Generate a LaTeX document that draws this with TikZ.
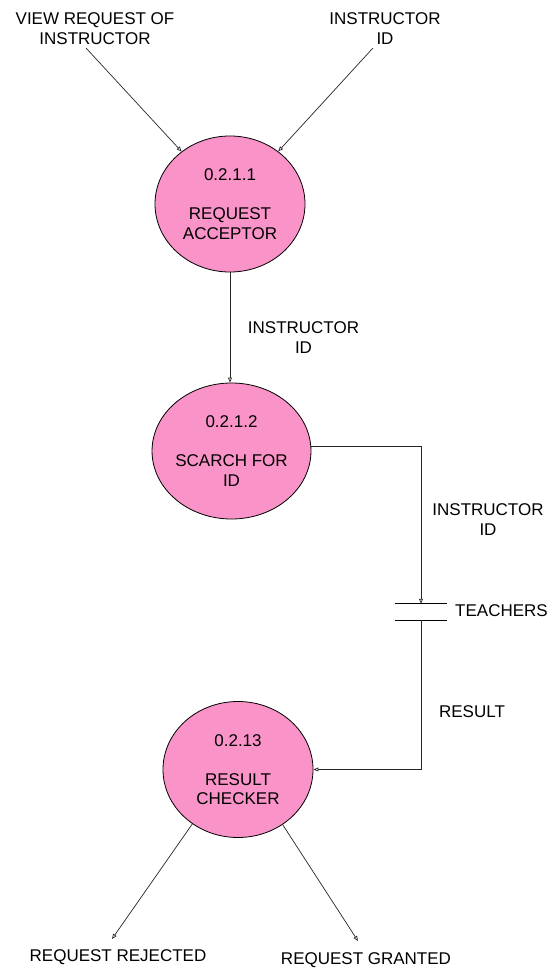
\documentclass[tikz,border=0pt]{standalone}
\usepackage{fontspec}
\setmainfont{Liberation Sans}
\usetikzlibrary{shapes.geometric,arrows.meta}
\definecolor{bubble}{RGB}{249,147,200}
\begin{document}
\begin{tikzpicture}[x=1pt,y=-1pt,
  every node/.style={font=\fontsize{17}{19.5}\selectfont},
  process/.style={ellipse,draw=black,line width=0.8pt,fill=bubble,
    minimum width=150pt,minimum height=136pt,inner sep=0pt,align=center},
  label/.style={inner sep=0pt,align=center},
  flow/.style={draw=black!85,line width=0.7pt,
    -{Triangle[open,length=5pt,width=4pt]}}]
\useasboundingbox (0,0) rectangle (551,968);

% processes
\node[process] (c1) at (230,204) {0.2.1.1\\[19.5pt]REQUEST\\ACCEPTOR};
\node[process] (c2) at (231.5,451) {0.2.1.2\\[19.5pt]SCARCH FOR\\ID};
\node[process] (c3) at (238,769.5) {0.2.13\\[19.5pt]RESULT\\CHECKER};

% data store
\node[minimum width=52pt,minimum height=16pt,inner sep=0pt] (store) at (421,612) {};
\draw[line width=0.7pt] (store.north west) -- (store.north east);
\draw[line width=0.7pt] (store.south west) -- (store.south east);
\node[label,anchor=base west] (teach) at (455,616) {TEACHERS};

% external texts
\node[label] (view) at (95,28.5) {VIEW REQUEST OF\\INSTRUCTOR};
\node[label] (iid) at (385,28.5) {INSTRUCTOR\\ID};
\node[label,anchor=base] (rej) at (118,961) {REQUEST REJECTED};
\node[label,anchor=base] (gra) at (366,964) {REQUEST GRANTED};

% flow labels
\node[label] (f1) at (303.5,337.5) {INSTRUCTOR\\ID};
\node[label] (f2) at (488,519.5) {INSTRUCTOR\\ID};
\node[label,anchor=base] (f3) at (472,717) {RESULT};

% free ends
\coordinate (s1) at (86,48);
\coordinate (s2) at (373,48);
\coordinate (e1) at (112,939);
\coordinate (e2) at (358,941);

% flows
\draw[flow] (s1) -- (c1);
\draw[flow] (s2) -- (c1);
\draw[flow] (c1.south) -- (c1.south |- c2.north);
\draw[flow] (c2.3) -| (store.north);
\draw[flow] (store.south) |- (c3.east);
\draw[flow] (c3.230) -- (e1);
\draw[flow] (c3.309) -- (e2);
\end{tikzpicture}
\end{document}
